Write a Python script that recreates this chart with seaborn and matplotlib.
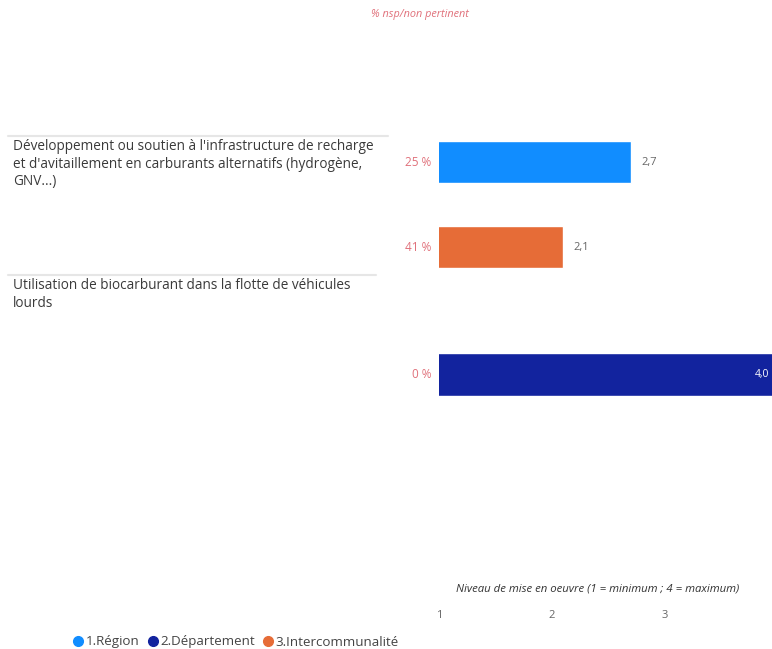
import matplotlib
matplotlib.use('Agg')
import matplotlib.pyplot as plt
import pandas as pd
import seaborn as sns

# Data
actions = ["Développement ou soutien à l'infrastructure de recharge\n"
           "et d'avitaillement en carburants alternatifs (hydrogène,\nGNV...)",
           "Utilisation de biocarburant dans la flotte de véhicules\nlourds"]
levels = ['1.Région', '2.Département', '3.Intercommunalité']
row_action = [actions[0], actions[0], actions[1]]
row_level = ['1.Région', '3.Intercommunalité', '2.Département']
row_value = [2.7, 2.1, 4.0]
row_nsp = ['25 %', '41 %', '0 %']
palette = {'1.Région': '#118DFF', '2.Département': '#12239E',
           '3.Intercommunalité': '#E66C37'}

df = pd.DataFrame({'action': row_action, 'niveau': row_level,
                   'valeur': row_value, 'nsp': row_nsp})

sns.set_style('white')
plt.rcParams['font.family'] = ['Open Sans', 'DejaVu Sans']

fig = plt.figure(figsize=(7.72, 6.49), dpi=100)
ax = fig.add_axes([439 / 772, 74 / 649, 333 / 772, 475 / 649])

sns.barplot(data=df, y='action', x='valeur', hue='niveau', order=actions,
            hue_order=levels, palette=palette, dodge=True, width=0.75,
            orient='h', ax=ax, legend=False, saturation=1)

ax.set_xlim(1, 1 + 333 / 113)
ax.set_ylim(2.18, -0.615)
ax.set_xticks([1, 2, 3])
ax.set_xticklabels(['1', '2', '3'], fontsize=8, color='#666666')
ax.tick_params(axis='x', length=0, pad=25)
ax.set_yticks([])
ax.set_xlabel('')
ax.set_ylabel('')
for s in ax.spines.values():
    s.set_visible(False)

# bar labels
bars = [p for p in ax.patches if p.get_width() > 0]
for p in bars:
    w = p.get_width()
    yc = p.get_y() + p.get_height() / 2
    row = df[(df['valeur'] - w).abs() < 1e-9].iloc[0]
    if w >= 3.9:
        ax.text(w - 0.08, yc, f"{w:.1f}".replace('.', ','), ha='right',
                va='center', fontsize=7.5, color='white', clip_on=False)
    else:
        ax.text(w + 0.09, yc, f"{w:.1f}".replace('.', ','), ha='left',
                va='center', fontsize=8, color='#666666')
    ax.annotate(row['nsp'], xy=(0, yc), xycoords=('axes fraction', 'data'),
                xytext=(-8, 0), textcoords='offset pixels', ha='right',
                va='center', fontsize=8.5, color='#E0707A')

fig.text(420 / 772, 1 - 15 / 649, '% nsp/non pertinent', ha='center',
         va='center', fontsize=7.8, style='italic', color='#E0707A')
fig.text(598 / 772, 1 - 589 / 649,
         'Niveau de mise en oeuvre (1 = minimum ; 4 = maximum)',
         ha='center', va='center', fontsize=8.2, style='italic',
         color='#333333')

# category labels with separator lines
for txt, ytop, xend in [(actions[0], 136, 388), (actions[1], 275, 376)]:
    fig.add_artist(plt.Line2D([8 / 772, xend / 772],
                              [1 - ytop / 649, 1 - ytop / 649],
                              color='#E6E6E6', lw=1.5))
    fig.text(13 / 772, 1 - (ytop + 3) / 649, txt, ha='left', va='top',
             fontsize=9.8, color='#3A3A3A', linespacing=1.25)

# legend
handles = [plt.Line2D([], [], marker='o', ls='', color=palette[l],
                      markersize=7) for l in levels]
fig.legend(handles, levels, loc='center left',
           bbox_to_anchor=(73 / 772, 1 - 642 / 649), ncol=3, frameon=False,
           handlelength=0.8, handletextpad=0.15, columnspacing=0.6,
           fontsize=9.6, labelcolor='#444444', borderaxespad=0, borderpad=0)

plt.savefig('out.png', dpi=100)
